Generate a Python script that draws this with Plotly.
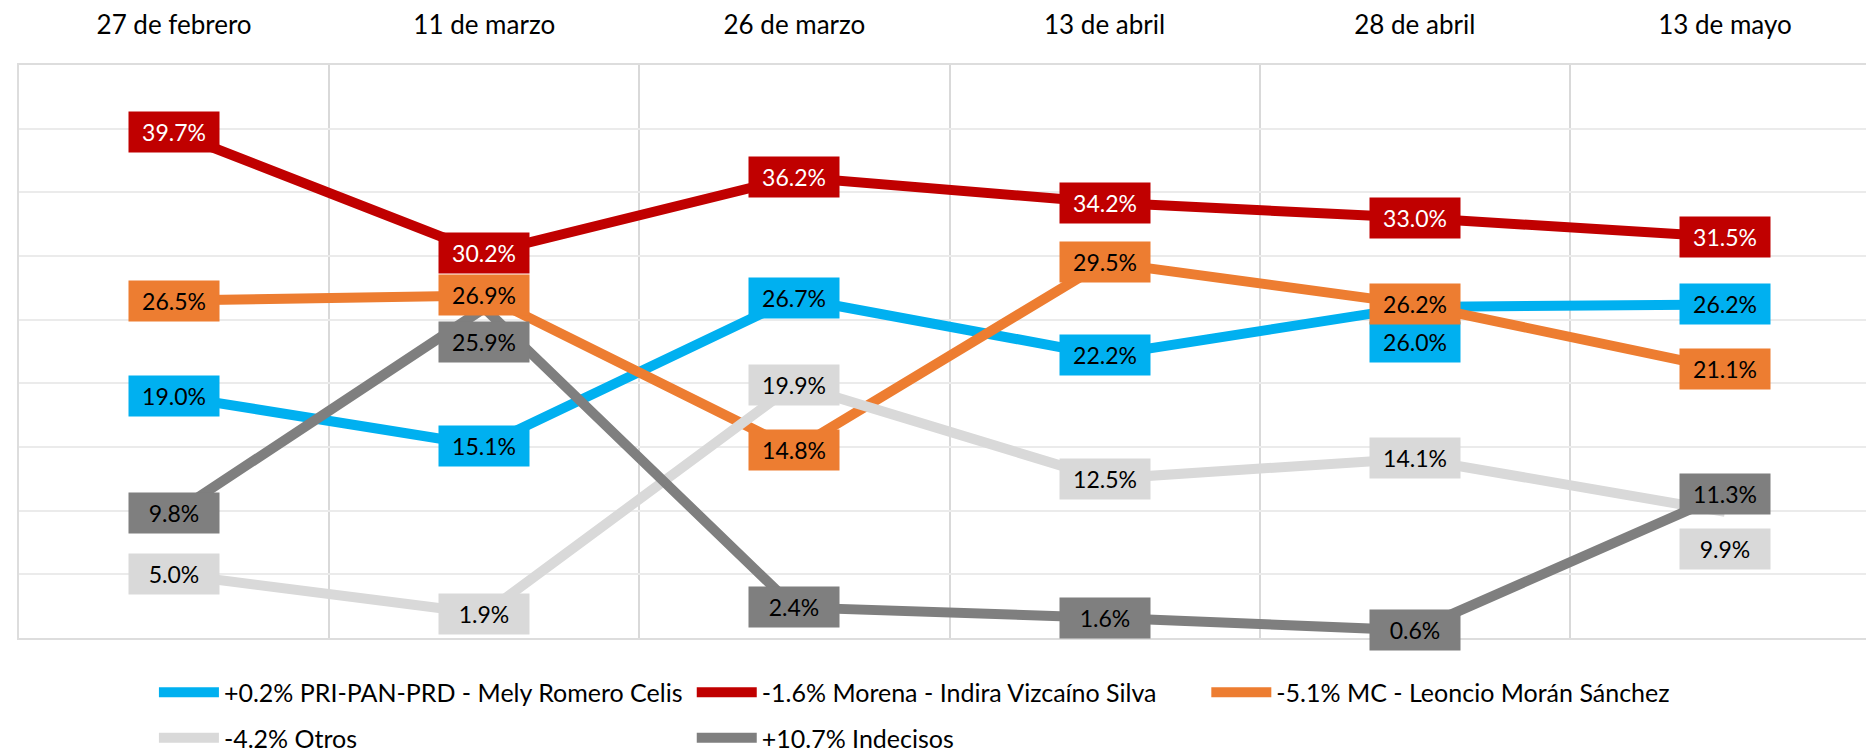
import plotly.graph_objects as go

fechas = ["27 de febrero", "11 de marzo", "26 de marzo", "13 de abril", "28 de abril", "13 de mayo"]

pri_pan_prd = [19.0, 15.1, 26.7, 22.2, 26.0, 26.2]
morena = [39.7, 30.2, 36.2, 34.2, 33.0, 31.5]
mc = [26.5, 26.9, 14.8, 29.5, 26.2, 21.1]
otros = [5.0, 1.9, 19.9, 12.5, 14.1, 9.9]
indecisos = [9.8, 25.9, 2.4, 1.6, 0.6, 11.3]

nombres = [
    "+0.2% PRI-PAN-PRD - Mely Romero Celis",
    "-1.6% Morena - Indira Vizcaíno Silva",
    "-5.1% MC - Leoncio Morán Sánchez",
    "-4.2% Otros",
    "+10.7% Indecisos",
]

series = [pri_pan_prd, morena, mc, otros, indecisos]
colores = ["#00B0F0", "#C00000", "#ED7D31", "#D9D9D9", "#7F7F7F"]
color_texto = ["black", "white", "black", "black", "black"]
leyendas = ["legend", "legend2", "legend3", "legend", "legend2"]
# label vertical shifts (pixels, negative = down)
desplaz = [
    [0, 0, 0, 0, -35, 0],
    [0, 0, 0, 0, 0, 0],
    [0, 0, 0, 0, 0, 0],
    [0, 0, 0, 0, 0, -37],
    [0, -34, 0, 0, 0, 0],
]

FONT = "Lato"
x = list(range(len(fechas)))

fig = go.Figure()
for i, (vals, nombre) in enumerate(zip(series, nombres)):
    fig.add_trace(go.Scatter(
        x=x, y=vals, mode="lines", name=nombre,
        line=dict(color=colores[i], width=10),
        legend=leyendas[i], legendgroup=f"g{i}",
        hoverinfo="skip",
    ))

annotations = []
for i, vals in enumerate(series):
    for j, v in enumerate(vals):
        annotations.append(dict(
            x=j, y=v, xref="x", yref="y", text=f"{v:.1f}%",
            showarrow=False, bgcolor=colores[i],
            font=dict(family=FONT, size=23, color=color_texto[i]),
            width=86, height=36, borderpad=2, yshift=desplaz[i][j],
        ))

leg_common = dict(
    orientation="v", yanchor="top", xanchor="left",
    font=dict(family=FONT, size=25, color="black"),
    bgcolor="rgba(0,0,0,0)", tracegroupgap=10, itemwidth=60,
    y=-0.055,
)

fig.update_layout(
    width=1874, height=755,
    margin=dict(l=11, r=2, t=57, b=114),
    paper_bgcolor="white", plot_bgcolor="white",
    showlegend=True,
    legend=dict(x=0.0725, **leg_common),
    legend2=dict(x=0.3615, **leg_common),
    legend3=dict(x=0.638, **leg_common),
    annotations=annotations,
    xaxis=dict(
        range=[-0.5, 5.5], side="top", tickmode="array", tickvals=x, ticktext=fechas,
        showgrid=False, zeroline=False, ticks="", ticklabelstandoff=19,
        tickfont=dict(family=FONT, size=26, color="black"),
        showline=True, mirror=True, linecolor="#DDDDDD", linewidth=2,
        minor=dict(tick0=-0.5, dtick=1, showgrid=True, gridcolor="#D9D9D9", gridwidth=1.5, ticks=""),
        fixedrange=True, automargin=False,
    ),
    yaxis=dict(
        range=[0, 45], dtick=5, showticklabels=False, showgrid=True,
        gridcolor="#EBEBEB", gridwidth=1.5, zeroline=False,
        showline=True, mirror=True, linecolor="#DDDDDD", linewidth=2,
        fixedrange=True, automargin=False,
    ),
)

fig.write_html("out.html")
